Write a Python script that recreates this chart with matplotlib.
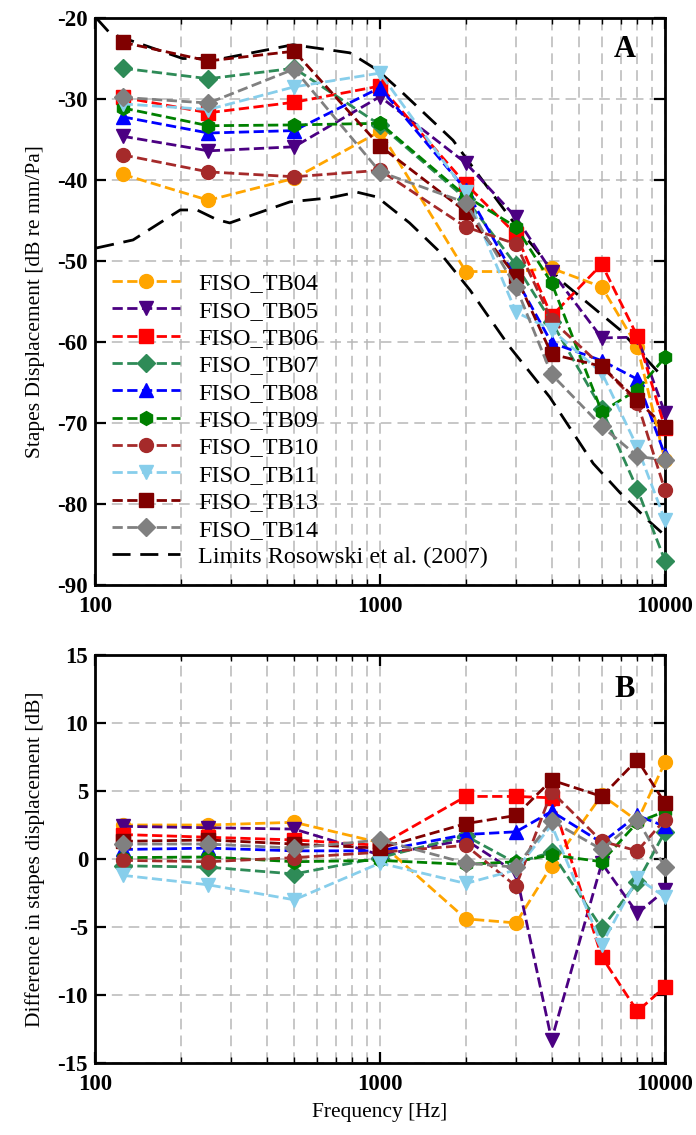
import matplotlib
matplotlib.use("Agg")
import matplotlib.pyplot as plt
from matplotlib.ticker import FixedLocator, FixedFormatter, NullFormatter, LogLocator

plt.rcParams['font.family'] = ['Liberation Serif', 'DejaVu Serif']
plt.rcParams['axes.unicode_minus'] = False

# frequencies of the measurements [Hz]
freq = [125, 250, 500, 1000, 2000, 3000, 4000, 6000, 8000, 10000]

names = ['FISO_TB04', 'FISO_TB05', 'FISO_TB06', 'FISO_TB07', 'FISO_TB08',
         'FISO_TB09', 'FISO_TB10', 'FISO_TB11', 'FISO_TB13', 'FISO_TB14']
colors = ['orange', 'indigo', 'red', 'seagreen', 'blue',
          'green', 'brown', 'skyblue', 'maroon', 'gray']
markers = ['o', 'v', 's', 'D', '^', 'h', 'o', 'v', 's', 'D']

# panel A: stapes displacement [dB re mm/Pa]
disp_tb04 = [-39.3, -42.5, -39.8, -34.0, -51.3, -51.3, -50.9, -53.2, -60.6, -74.6]
disp_tb05 = [-34.6, -36.4, -35.9, -29.7, -37.9, -44.6, -51.3, -59.5, -59.4, -68.8]
disp_tb06 = [-29.8, -31.7, -30.4, -28.4, -40.5, -46.7, -56.8, -50.4, -59.3, -70.6]
disp_tb07 = [-26.2, -27.5, -26.2, -33.2, -42.3, -50.5, -57.5, -68.3, -78.2, -87.0]
disp_tb08 = [-32.2, -34.2, -33.9, -28.6, -41.2, -52.2, -60.1, -62.3, -64.6, -74.0]
disp_tb09 = [-31.1, -33.3, -33.2, -33.0, -42.0, -45.8, -52.7, -68.6, -65.9, -61.9]
disp_tb10 = [-36.9, -39.0, -39.6, -38.8, -45.8, -47.9, -57.3, -63.0, -67.5, -78.3]
disp_tb11 = [-30.6, -31.3, -28.5, -26.8, -41.5, -56.3, -58.5, -63.8, -73.0, -82.0]
disp_tb13 = [-23.0, -25.3, -24.1, -35.8, -43.9, -51.9, -61.5, -63.0, -67.2, -70.5]
disp_tb14 = [-29.8, -30.5, -26.3, -39.0, -42.8, -53.2, -64.0, -70.4, -74.1, -74.6]
disp_all = [disp_tb04, disp_tb05, disp_tb06, disp_tb07, disp_tb08,
            disp_tb09, disp_tb10, disp_tb11, disp_tb13, disp_tb14]

# limits Rosowski et al. (2007)
upper_f = [101, 113, 203, 281, 495, 784, 977, 1173, 1804, 2419, 3087, 3452, 4267, 6954, 9790]
upper_db = [-20.0, -21.9, -25.0, -25.0, -23.3, -24.3, -26.4, -28.9, -35.1, -41.2, -46.2, -48.2, -52.3, -58.5, -64.3]
lower_f = [101, 136, 199, 228, 268, 297, 483, 667, 830, 977, 1270, 1590, 2070, 2850, 3940, 5600, 6950, 8900, 9790]
lower_db = [-48.4, -47.4, -43.7, -43.7, -44.9, -45.3, -42.7, -42.2, -41.5, -42.1, -45.3, -48.6, -53.6, -60.6, -66.8, -75.0, -78.6, -82.3, -83.6]

# panel B: difference in stapes displacement [dB]
diff_tb04 = [2.5, 2.5, 2.7, 1.2, -4.4, -4.7, -0.5, 4.7, 2.8, 7.1]
diff_tb05 = [2.4, 2.3, 2.2, 0.3, 1.4, -1.0, -13.3, -0.3, -4.0, -2.3]
diff_tb06 = [1.8, 1.6, 1.4, 1.0, 4.6, 4.6, 4.5, -7.2, -11.2, -9.4]
diff_tb07 = [-0.5, -0.6, -1.1, 0.1, 1.7, -0.3, 0.5, -5.1, -1.7, 2.0]
diff_tb08 = [0.7, 0.8, 0.6, 0.6, 1.8, 2.0, 3.5, 1.2, 3.2, 2.4]
diff_tb09 = [0.1, 0.15, -0.2, -0.1, -0.4, -0.2, 0.3, -0.2, 2.7, 3.5]
diff_tb10 = [-0.1, -0.2, 0.1, 0.5, 1.0, -2.0, 4.95, 1.3, 0.6, 2.9]
diff_tb11 = [-1.2, -1.9, -3.0, -0.3, -1.8, -0.8, 2.5, -6.3, -1.4, -2.8]
diff_tb13 = [1.3, 1.4, 1.1, 0.8, 2.6, 3.2, 5.8, 4.6, 7.3, 4.1]
diff_tb14 = [1.1, 1.1, 0.8, 1.4, -0.3, -0.6, 2.8, 0.7, 2.9, -0.6]
diff_all = [diff_tb04, diff_tb05, diff_tb06, diff_tb07, diff_tb08,
            diff_tb09, diff_tb10, diff_tb11, diff_tb13, diff_tb14]

fig = plt.figure(figsize=(6.96, 11.35), dpi=100)
axA = fig.add_axes([95 / 696, 1 - 585 / 1135, 570 / 696, 567 / 1135])
axB = fig.add_axes([95 / 696, 1 - 1063 / 1135, 570 / 696, 408 / 1135])


def style_axis(ax, ylim, yticks):
    ax.set_xscale('log')
    ax.set_xlim(100, 10000)
    ax.set_ylim(*ylim)
    ax.xaxis.set_major_locator(FixedLocator([100, 1000, 10000]))
    ax.xaxis.set_major_formatter(FixedFormatter(['100', '1000', '10000']))
    ax.xaxis.set_minor_locator(LogLocator(base=10, subs=range(2, 10)))
    ax.xaxis.set_minor_formatter(NullFormatter())
    ax.set_yticks(yticks)
    ax.grid(True, which='both', axis='x', color='#b8b8b8', linestyle=(0, (7, 4)), linewidth=1.1)
    ax.grid(True, which='major', axis='y', color='#b8b8b8', linestyle=(0, (7, 4)), linewidth=1.1)
    ax.set_axisbelow(True)
    ax.tick_params(which='major', direction='in', length=8, width=1.6, top=True, right=True,
                   labelsize=16.5, pad=8)
    ax.tick_params(which='minor', direction='in', length=4, width=1.0, top=True, right=True)
    ax.tick_params(axis='y', pad=5)
    for lab in ax.get_xticklabels() + ax.get_yticklabels():
        lab.set_fontweight('bold')
    for sp in ax.spines.values():
        sp.set_linewidth(2.0)


for name, col, mk, vals in zip(names, colors, markers, disp_all):
    axA.plot(freq, vals, linestyle='--', color=col, marker=mk, markersize=10 if mk != 'D' else 9,
             linewidth=2.0, label=name, clip_on=False, zorder=3)
axA.plot(upper_f, upper_db, color='black', linewidth=2.0, dashes=(6.5, 3.5),
         label='Limits Rosowski et al. (2007)', zorder=2)
axA.plot(lower_f, lower_db, color='black', linewidth=2.0, dashes=(6.5, 3.5), zorder=2)

style_axis(axA, (-90, -20), range(-90, -19, 10))
axA.set_ylabel('Stapes Displacement [dB re mm/Pa]', fontsize=15.5, labelpad=9)
axA.text(0.93, 0.945, 'A', transform=axA.transAxes, fontsize=22, fontweight='bold',
         ha='center', va='center')
axA.legend(loc='lower left', frameon=False, fontsize=17.5, handlelength=2.8,
           handletextpad=0.75, labelspacing=0.22, borderaxespad=0.3)

for name, col, mk, vals in zip(names, colors, markers, diff_all):
    axB.plot(freq, vals, linestyle='--', color=col, marker=mk, markersize=10 if mk != 'D' else 9,
             linewidth=2.0, label=name, clip_on=False, zorder=3)

style_axis(axB, (-15, 15), range(-15, 16, 5))
axB.set_ylabel('Difference in stapes displacement [dB]', fontsize=15.5, labelpad=9)
axB.set_xlabel('Frequency [Hz]', fontsize=15.5, labelpad=6)
axB.text(0.93, 0.915, 'B', transform=axB.transAxes, fontsize=22, fontweight='bold',
         ha='center', va='center')

fig.savefig('out.png', dpi=100)
